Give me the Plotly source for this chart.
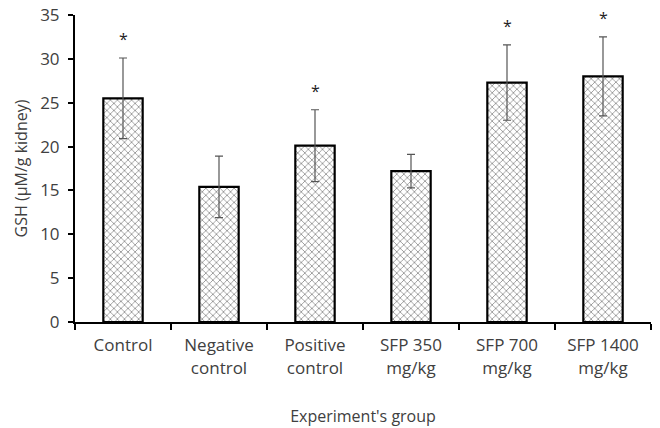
import plotly.graph_objects as go

categories = ["Control", "Negative<br>control", "Positive<br>control", "SFP 350<br>mg/kg", "SFP 700<br>mg/kg", "SFP 1400<br>mg/kg"]
values = [25.5, 15.4, 20.1, 17.2, 27.3, 28.0]
errors = [4.6, 3.5, 4.1, 1.9, 4.3, 4.5]
significant = [True, False, True, False, True, True]

FONT = "Open Sans"
TXT = "#404040"

fig = go.Figure()
fig.add_trace(go.Bar(
    x=categories, y=values,
    width=0.41,
    marker=dict(color="white", line=dict(color="black", width=2.2),
                pattern=dict(shape="x", fgcolor="#222222", bgcolor="white", size=5, solidity=0.3)),
    error_y=dict(type="data", array=errors, visible=True, color="#555555", thickness=1.2, width=4),
))

for c, v, e, s in zip(categories, values, errors, significant):
    if s:
        fig.add_annotation(x=c, y=v + e, text="*", showarrow=False, yshift=19,
                           font=dict(size=16, color="#222222", family=FONT))

fig.update_layout(
    width=660, height=428,
    margin=dict(l=75, r=9, t=15, b=106),
    plot_bgcolor="white", paper_bgcolor="white",
    showlegend=False,
    font=dict(family=FONT, color=TXT),
    bargap=0.59,
)
fig.update_xaxes(
    automargin=False,
    showline=True, linecolor="black", linewidth=2,
    ticks="outside", tickson="boundaries", ticklen=6, tickcolor="black", tickwidth=2,
    tickfont=dict(size=17, color=TXT),
    ticklabelstandoff=7,
    title=dict(text="Experiment's group", font=dict(size=16, color=TXT), standoff=33),
)
fig.update_yaxes(
    automargin=False,
    range=[0, 35], dtick=5,
    showline=True, linecolor="black", linewidth=2,
    ticks="outside", ticklen=5, tickcolor="black", tickwidth=2,
    showgrid=False, zeroline=False,
    tickfont=dict(size=17, color=TXT),
    ticklabelstandoff=5,
    title=dict(text="GSH (μM/g kidney)", font=dict(size=16, color=TXT), standoff=9),
)

fig.write_html("out.html")
